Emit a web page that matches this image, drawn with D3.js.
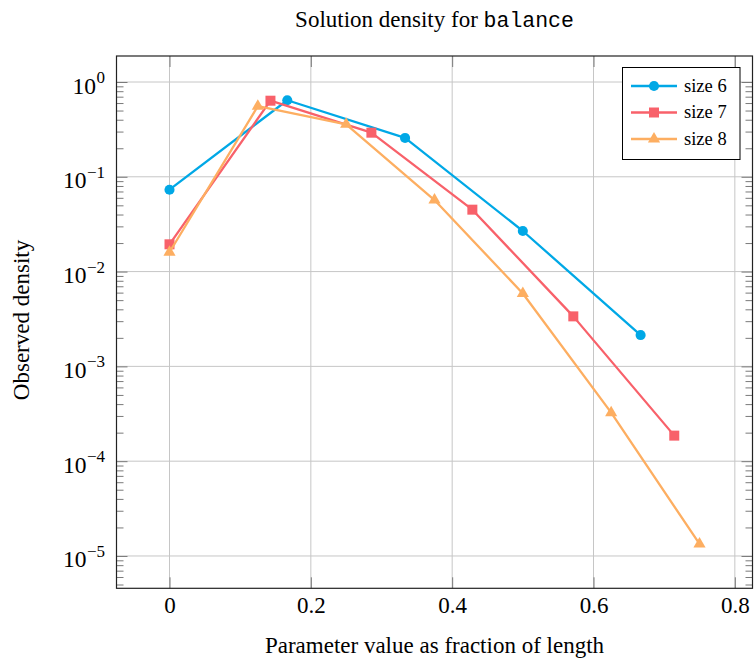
<!DOCTYPE html>
<html><head><meta charset="utf-8">
<script src="https://cdn.jsdelivr.net/npm/d3@7"></script>
<style>body{margin:0;background:#fff}svg{display:block}</style></head>
<body>
<svg id="c" width="754" height="662"></svg>
<script>
// ---- data ----
const seriesNames = ["size 6", "size 7", "size 8"];
const x6 = [0, 1/6, 2/6, 3/6, 4/6];
const y6 = [0.0731, 0.642, 0.257, 0.0268, 0.00214];
const x7 = [0, 1/7, 2/7, 3/7, 4/7, 5/7];
const y7 = [0.0194, 0.635, 0.292, 0.0450, 0.00337, 0.000186];
const x8 = [0, 1/8, 2/8, 3/8, 4/8, 5/8, 6/8];
const y8 = [0.0160, 0.556, 0.358, 0.0569, 0.00588, 0.000325, 0.0000134];
const xTickValues = [0, 0.2, 0.4, 0.6, 0.8];
const xTickLabels = ["0", "0.2", "0.4", "0.6", "0.8"];
const yTickExponents = [0, -1, -2, -3, -4, -5];
const titleText = "Solution density for ";
const titleCode = "balance";
const xLabel = "Parameter value as fraction of length";
const yLabel = "Observed density";

// ---- style / layout ----
const colors = ["#00a8e6", "#f8616a", "#fdae61"];
const markerTypes = ["circle", "square", "triangle"];
const SERIF = "'Liberation Serif','Times New Roman',serif";
const MONO = "'Liberation Mono','DejaVu Sans Mono',monospace";
const L = 116.5, R = 752.5, T = 56, B = 588.3;

const series = [[x6, y6], [x7, y7], [x8, y8]].map(([xs, ys], i) => ({
  name: seriesNames[i], color: colors[i], marker: markerTypes[i],
  pts: xs.map((v, j) => [v, ys[j]])
}));

const x = d3.scaleLinear([-0.075, 0.825], [L, R]);
const y = d3.scaleLog([Math.pow(10, -5.341), Math.pow(10, 0.2743)], [B, T]);

const svg = d3.select("#c");

// title
const title = svg.append("text").attr("x", 434.5).attr("y", 26.7)
  .attr("text-anchor", "middle").attr("font-family", SERIF).attr("font-size", 23).attr("fill", "#000");
title.append("tspan").text(titleText);
title.append("tspan").attr("font-family", MONO).attr("font-size", 21.5).text(titleCode);

// grid
const yMajor = yTickExponents.map(e => Math.pow(10, e));
const g = svg.append("g");
g.selectAll(".gx").data(xTickValues).join("line")
  .attr("x1", d => x(d)).attr("x2", d => x(d)).attr("y1", T).attr("y2", B)
  .attr("stroke", "#c6c6c6").attr("stroke-width", 1);
g.selectAll(".gy").data(yMajor).join("line")
  .attr("y1", d => y(d)).attr("y2", d => y(d)).attr("x1", L).attr("x2", R)
  .attr("stroke", "#c6c6c6").attr("stroke-width", 1);

// minor y ticks
const yMinor = y.ticks().filter(v => {
  const l = Math.log10(v); return Math.abs(l - Math.round(l)) > 1e-6;
});
const tickColor = "#7a7a7a";
function styleAxis(sel) {
  sel.select(".domain").remove();
  sel.selectAll(".tick line").attr("stroke", tickColor).attr("stroke-width", 1);
}
// x axes (bottom / top)
const xAxisB = svg.append("g").attr("transform", `translate(0,${B})`)
  .call(d3.axisBottom(x).tickValues(xTickValues).tickSize(-11).tickPadding(14)
    .tickFormat((d, i) => xTickLabels[i]));
styleAxis(xAxisB);
xAxisB.selectAll("text").attr("font-family", SERIF).attr("font-size", 23).attr("fill", "#000")
  .attr("dy", null).attr("y", 25);
const xAxisT = svg.append("g").attr("transform", `translate(0,${T})`)
  .call(d3.axisTop(x).tickValues(xTickValues).tickSize(-11).tickFormat(""));
styleAxis(xAxisT);

// y axes (left / right), majors + minors
const yAxisL = svg.append("g").attr("transform", `translate(${L},0)`)
  .call(d3.axisLeft(y).tickValues(yMajor).tickSize(-11).tickPadding(11).tickFormat(""));
styleAxis(yAxisL);
const yAxisLm = svg.append("g").attr("transform", `translate(${L},0)`)
  .call(d3.axisLeft(y).tickValues(yMinor).tickSize(-7).tickFormat(""));
styleAxis(yAxisLm);
const yAxisR = svg.append("g").attr("transform", `translate(${R},0)`)
  .call(d3.axisRight(y).tickValues(yMajor).tickSize(-11).tickFormat(""));
styleAxis(yAxisR);
const yAxisRm = svg.append("g").attr("transform", `translate(${R},0)`)
  .call(d3.axisRight(y).tickValues(yMinor).tickSize(-7).tickFormat(""));
styleAxis(yAxisRm);

// y tick labels 10^e
yAxisL.selectAll(".tick").each(function(d, i) {
  const t = d3.select(this).append("text").attr("x", -11.5).attr("y", 11)
    .attr("text-anchor", "end").attr("font-family", SERIF).attr("fill", "#000");
  t.append("tspan").attr("font-size", 23.5).text("10");
  const e = yTickExponents[i];
  t.append("tspan").attr("font-size", 17).attr("dy", -10.5).attr("dx", 0.5)
    .text(e < 0 ? "\u2212" + Math.abs(e) : String(e));
});

// frame
svg.append("rect").attr("x", L).attr("y", T).attr("width", R - L).attr("height", B - T)
  .attr("fill", "none").attr("stroke", "#222").attr("stroke-width", 1.2);

// series
const line = d3.line().x(d => x(d[0])).y(d => y(d[1]));
const symbolOf = m => m === "circle" ? d3.symbol(d3.symbolCircle, 80)
  : m === "square" ? d3.symbol(d3.symbolSquare, 100)
  : d3.symbol(d3.symbolTriangle, 64);
const plot = svg.append("g");
series.forEach(s => {
  const gs = plot.append("g");
  gs.append("path").attr("d", line(s.pts)).attr("fill", "none")
    .attr("stroke", s.color).attr("stroke-width", 2.3).attr("stroke-linejoin", "round");
  gs.selectAll("path.m").data(s.pts).join("path").attr("class", "m")
    .attr("transform", d => `translate(${x(d[0])},${y(d[1])})`)
    .attr("d", symbolOf(s.marker)()).attr("fill", s.color);
});

// legend
const lg = svg.append("g");
lg.append("rect").attr("x", 622.5).attr("y", 67.5).attr("width", 117.5).attr("height", 92)
  .attr("fill", "#fff").attr("stroke", "#000").attr("stroke-width", 1);
const rowY = d3.scalePoint(seriesNames, [86, 139]);
series.forEach(s => {
  const cy = rowY(s.name);
  lg.append("line").attr("x1", 631).attr("x2", 677).attr("y1", cy).attr("y2", cy)
    .attr("stroke", s.color).attr("stroke-width", 2.3);
  lg.append("path").attr("transform", `translate(654,${cy})`)
    .attr("d", symbolOf(s.marker)()).attr("fill", s.color);
  lg.append("text").attr("x", 684).attr("y", cy + 5.7).attr("font-family", SERIF)
    .attr("font-size", 18.5).attr("fill", "#000").text(s.name);
});

// axis labels
svg.append("text").attr("x", 434.5).attr("y", 652.7).attr("text-anchor", "middle")
  .attr("font-family", SERIF).attr("font-size", 23).attr("fill", "#000").text(xLabel);
svg.append("text").attr("transform", "translate(28.5,320) rotate(-90)").attr("text-anchor", "middle")
  .attr("font-family", SERIF).attr("font-size", 23).attr("fill", "#000").text(yLabel);
</script>
</body></html>
